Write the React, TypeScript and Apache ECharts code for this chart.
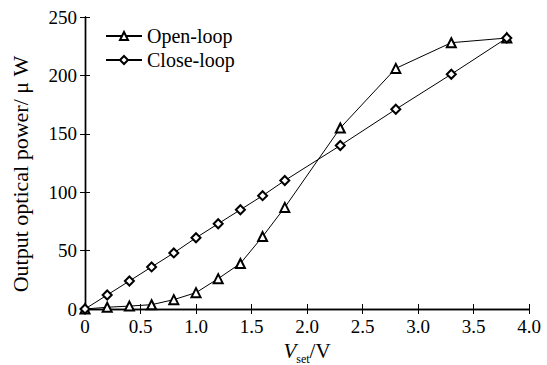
import React, { useEffect, useRef } from "react";
import * as echarts from "echarts";

const xValues = [0, 0.2, 0.4, 0.6, 0.8, 1.0, 1.2, 1.4, 1.6, 1.8, 2.3, 2.8, 3.3, 3.8];
const openLoop = [0, 1.5, 2.5, 3.7, 8, 14, 26, 39, 62, 87, 155, 206, 228, 232];
const closeLoop = [0, 12, 24, 36, 48, 61, 73, 85, 97, 110, 140, 171, 201, 232];
const seriesNames = ["Open-loop", "Close-loop"];

const FONT = "'Liberation Serif', 'Times New Roman', serif";

export default function App() {
  const ref = useRef<HTMLDivElement>(null);
  useEffect(() => {
    document.body.style.margin = "0";
    const chart = echarts.init(ref.current!, null, { renderer: "svg" });
    const axisCommon = {
      axisLine: { show: true, lineStyle: { color: "#000", width: 1.4 } },
      axisTick: { show: true, inside: true, length: 5, lineStyle: { color: "#000" } },
      splitLine: { show: false },
    };
    chart.setOption({
      animation: false,
      backgroundColor: "#fff",
      grid: { left: 85, right: 18, top: 17, bottom: 56, containLabel: false, outerBoundsMode: "none" },
      legend: {
        orient: "vertical",
        left: 100,
        top: 21,
        itemWidth: 36,
        itemHeight: 10,
        itemGap: 4,
        textStyle: { fontFamily: FONT, fontSize: 20, color: "#000" },
        data: seriesNames,
      },
      xAxis: [
        {
          type: "value",
          min: 0,
          max: 4,
          interval: 0.5,
          position: "bottom",
          ...axisCommon,
          axisLabel: {
            fontFamily: FONT,
            fontSize: 19,
            color: "#000",
            margin: 8,
            formatter: (v: number) => (v === 0 ? "0" : v.toFixed(1)),
          },
          name: "{i|V}{s|set}{n|/V}",
          nameLocation: "middle",
          nameGap: 25,
          nameTextStyle: {
            rich: {
              i: { fontFamily: FONT, fontStyle: "italic", fontSize: 21, color: "#000", verticalAlign: "bottom", lineHeight: 21 },
              s: { fontFamily: FONT, fontSize: 12, color: "#000", verticalAlign: "bottom", lineHeight: 12, padding: [0, 0, -3, 0] },
              n: { fontFamily: FONT, fontSize: 21, color: "#000", verticalAlign: "bottom", lineHeight: 21 },
            },
          },
        },
        {
          type: "value",
          min: 0,
          max: 4,
          interval: 0.5,
          position: "top",
          ...axisCommon,
          axisLabel: { show: false },
        },
      ],
      yAxis: [
        {
          type: "value",
          min: 0,
          max: 250,
          interval: 50,
          position: "left",
          ...axisCommon,
          axisLabel: { fontFamily: FONT, fontSize: 19, color: "#000", margin: 8 },
          name: "Output optical power/ μ W",
          nameLocation: "middle",
          nameGap: 54,
          nameTextStyle: { fontFamily: FONT, fontSize: 22, color: "#000", padding: [0, 22, 0, 0] },
        },
        {
          type: "value",
          min: 0,
          max: 250,
          interval: 50,
          position: "right",
          ...axisCommon,
          axisLabel: { show: false },
        },
      ],
      series: [
        {
          name: seriesNames[0],
          type: "line",
          data: xValues.map((x, i) => [x, openLoop[i]]),
          symbol: "emptyTriangle",
          symbolSize: 9,
          lineStyle: { color: "#000", width: 1 },
          itemStyle: { color: "#000", borderColor: "#000", borderWidth: 1.2 },
          xAxisIndex: 0,
          yAxisIndex: 0,
        },
        {
          name: seriesNames[1],
          type: "line",
          data: xValues.map((x, i) => [x, closeLoop[i]]),
          symbol: "emptyDiamond",
          symbolSize: 9,
          lineStyle: { color: "#000", width: 1 },
          itemStyle: { color: "#000", borderColor: "#000", borderWidth: 1.2 },
          xAxisIndex: 0,
          yAxisIndex: 0,
        },
      ],
    });
    return () => chart.dispose();
  }, []);
  return <div ref={ref} style={{ width: 547, height: 365, position: "absolute", left: 0, top: 0 }} />;
}
